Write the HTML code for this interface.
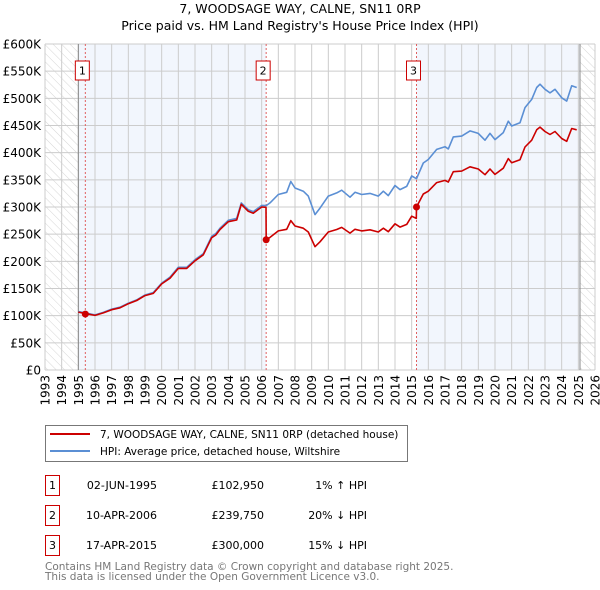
<!DOCTYPE html>
<html><head><meta charset="utf-8"><style>
body{margin:0;background:#fff;}
svg{display:block;font-family:"DejaVu Sans","Liberation Sans",sans-serif;}
</style></head><body>
<svg id="chart" width="600" height="590" viewBox="0 0 600 590">
<defs>
<pattern id="hatch" width="6" height="6" patternUnits="userSpaceOnUse" patternTransform="rotate(-45)">
<line x1="0" y1="0" x2="0" y2="6" stroke="#ccc" stroke-width="0.8"/>
</pattern>
</defs>
<text x="300" y="13" text-anchor="middle" font-size="12.5">7, WOODSAGE WAY, CALNE, SN11 0RP</text>
<text x="300" y="30" text-anchor="middle" font-size="12.5">Price paid vs. HM Land Registry's House Price Index (HPI)</text>
<g id="plot"></g>
<g id="legend">
<rect x="45.5" y="425.5" width="362" height="36" fill="#fff" stroke="#777"/>
<line x1="50" y1="434" x2="90" y2="434" stroke="#cc0000" stroke-width="2"/>
<text x="100" y="438" font-size="10.5">7, WOODSAGE WAY, CALNE, SN11 0RP (detached house)</text>
<line x1="50" y1="451" x2="90" y2="451" stroke="#5b8fd4" stroke-width="2"/>
<text x="100" y="455" font-size="10.5">HPI: Average price, detached house, Wiltshire</text>
</g>
<g id="table" font-size="11"></g>
<text x="45" y="570" font-size="10.5" fill="#777">Contains HM Land Registry data © Crown copyright and database right 2025.</text>
<text x="45" y="580" font-size="10.5" fill="#777">This data is licensed under the Open Government Licence v3.0.</text>
</svg>
<script>
const hpiYears=[1995,1995.5,1996,1996.5,1997,1997.5,1998,1998.5,1999,1999.5,2000,2000.5,2001,2001.5,2002,2002.5,2003,2003.25,2003.5,2004,2004.5,2004.78,2005.2,2005.5,2006,2006.27,2006.5,2007,2007.5,2007.75,2008,2008.5,2008.8,2009.2,2009.5,2010,2010.5,2010.8,2011.3,2011.6,2012,2012.5,2013,2013.3,2013.6,2014,2014.3,2014.7,2015,2015.29,2015.7,2016,2016.5,2017,2017.2,2017.5,2018,2018.5,2019,2019.4,2019.7,2020,2020.5,2020.8,2021,2021.5,2021.8,2022.2,2022.5,2022.7,2023,2023.3,2023.6,2024,2024.3,2024.6,2024.9];
const hpiValues=[107.6,104.5,101.5,106,112,115.6,123,129,138,142.7,160,171,189,189,203,214,246,251,261,275.5,279,307.5,295,291.5,303,302.5,307.5,323,327,347,335,329,320,286,298,320,326,331,318,327,323,325,320,329,321,339.5,332,338,357,352,381,387.5,406,411,407,429,430.5,440,435.5,423,435.5,424,437,458,449,455,483,498,520,526,516.6,510,516.6,501,495,523,520];
const propYears=[1995,1995.5,1996,1996.5,1997,1997.5,1998,1998.5,1999,1999.5,2000,2000.5,2001,2001.5,2002,2002.5,2003,2003.25,2003.5,2004,2004.5,2004.78,2005.2,2005.5,2006,2006.26,2006.27,2006.5,2007,2007.5,2007.75,2008,2008.5,2008.8,2009.2,2009.5,2010,2010.5,2010.8,2011.3,2011.6,2012,2012.5,2013,2013.3,2013.6,2014,2014.3,2014.7,2015,2015.28,2015.29,2015.7,2016,2016.5,2017,2017.2,2017.5,2018,2018.5,2019,2019.4,2019.7,2020,2020.5,2020.8,2021,2021.5,2021.8,2022.2,2022.5,2022.7,2023,2023.3,2023.6,2024,2024.3,2024.6,2024.9];
const propValues=[106.5,103.5,100.5,105,111,114.5,122,128,137,141,158.5,169,187,187,201,212,243.5,248.5,258.5,273,276,305,292,288.5,300,299.5,239.75,244,256,259,275,265,261,254,227,236,254,258.5,262.5,252,259,256,258,254,261,254.5,269,263,268,283,279,300,324,329,345,349,346,365,366,374,370,359.5,370,360,371.5,389,381.5,387,410.5,423,442,447,439,433.5,439,426,421,444.5,442];
const saleLabels=["1","2","3"];
const saleYears=[1995.42,2006.27,2015.29];
const saleValues=[102.95,239.75,300];
const saleDates=["02-JUN-1995","10-APR-2006","17-APR-2015"];
const salePrices=["£102,950","£239,750","£300,000"];
const saleDiffs=["1% \u2191 HPI","20% \u2193 HPI","15% \u2193 HPI"];
const yTicks=[0,50,100,150,200,250,300,350,400,450,500,550,600];
const yTickLabels=["£0","£50K","£100K","£150K","£200K","£250K","£300K","£350K","£400K","£450K","£500K","£550K","£600K"];
const xTicks=[1993,1994,1995,1996,1997,1998,1999,2000,2001,2002,2003,2004,2005,2006,2007,2008,2009,2010,2011,2012,2013,2014,2015,2016,2017,2018,2019,2020,2021,2022,2023,2024,2025,2026];

const X0=45,X1=595,Y0=370,Y1=44;
const xS=y=>X0+(y-1993)/(2026-1993)*(X1-X0);
const yS=v=>Y0-v/600*(Y0-Y1);
const NS="http://www.w3.org/2000/svg";
function mk(tag,attrs,parent){const e=document.createElementNS(NS,tag);for(const k in attrs)e.setAttribute(k,attrs[k]);parent.appendChild(e);return e;}
const plot=document.getElementById('plot');
let r;
r=mk('rect',{x:X0,y:Y1,width:X1-X0,height:Y0-Y1,fill:'#fff'},plot);


r=mk('rect',{x:xS(1995),y:Y1,width:xS(saleYears[1])-xS(1995),height:Y0-Y1,fill:'#f2f6fd'},plot);


r=mk('rect',{x:xS(saleYears[2]),y:Y1,width:xS(2025.1)-xS(saleYears[2]),height:Y0-Y1,fill:'#f2f6fd'},plot);


r=mk('rect',{x:X0,y:Y1,width:xS(1995)-X0,height:Y0-Y1,fill:'url(#hatch)'},plot);


r=mk('rect',{x:xS(2025.1),y:Y1,width:X1-xS(2025.1),height:Y0-Y1,fill:'url(#hatch)'},plot);


xTicks.forEach((t,i)=>{
 const l=mk('line',{x1:xS(t),x2:xS(t),y1:Y1,y2:Y0,stroke:'#ccc','stroke-width':1},plot);
 
 
 const tx=mk('text',{x:0,y:0,'font-size':12,'text-anchor':'end',transform:`translate(${xS(t)+4.5},375) rotate(-90)`},plot);
 tx.textContent=t;
 
 
});
yTicks.forEach((t,i)=>{
 const l=mk('line',{x1:X0,x2:X1,y1:yS(t),y2:yS(t),stroke:'#ccc','stroke-width':1},plot);
 
 
 const tx=mk('text',{x:41,y:yS(t)+4.5,'font-size':12,'text-anchor':'end'},plot);
 tx.textContent=yTickLabels[i];
 
 
});
[1995,2025.1].forEach(t=>{
 const l=mk('line',{x1:xS(t),x2:xS(t),y1:Y1,y2:Y0,stroke:'#888','stroke-width':1},plot);
 
 
});
saleYears.forEach((t,i)=>{
 const l=mk('line',{x1:xS(t),x2:xS(t),y1:Y1,y2:Y0,stroke:'#e06060','stroke-width':1,'stroke-dasharray':'2,2'},plot);
 
 
 const b=mk('rect',{x:xS(t)-10,y:61,width:14,height:19,fill:'#fff',stroke:'#cc0000'},plot);
 
 
 const tx=mk('text',{x:xS(t)-3,y:74.5,'font-size':11,'text-anchor':'middle'},plot);
 tx.textContent=saleLabels[i];
 
 
});
const pts=(xs,vs)=>xs.map((x,i)=>xS(x).toFixed(1)+','+yS(vs[i]).toFixed(1)).join(' ');
const hp=mk('polyline',{points:pts(hpiYears,hpiValues),fill:'none',stroke:'#5b8fd4','stroke-width':1.6,'stroke-linejoin':'round'},plot);


const pp=mk('polyline',{points:pts(propYears,propValues),fill:'none',stroke:'#cc0000','stroke-width':1.6,'stroke-linejoin':'round'},plot);


saleYears.forEach((t,i)=>{
 const c=mk('circle',{cx:xS(t),cy:yS(saleValues[i]),r:3.5,fill:'#cc0000'},plot);
 
 
});
const tb=document.getElementById('table');
saleLabels.forEach((lab,i)=>{
 const y=475+i*30;
 const b=mk('rect',{x:45.5,y:y+0.5,width:14,height:20,fill:'#fff',stroke:'#cc0000'},tb);
 
 
 const cells=[[52.5,lab,'middle'],[157,saleDates[i],'end'],[264,salePrices[i],'end'],[367,saleDiffs[i],'end']];
 const names=['table-label','table-date','table-price','table-hpi-diff'];
 cells.forEach((c,j)=>{
  const tx=mk('text',{x:c[0],y:y+14,'text-anchor':c[2]},tb);
  tx.textContent=c[1];
  
  
 });
});
</script>
</body></html>
